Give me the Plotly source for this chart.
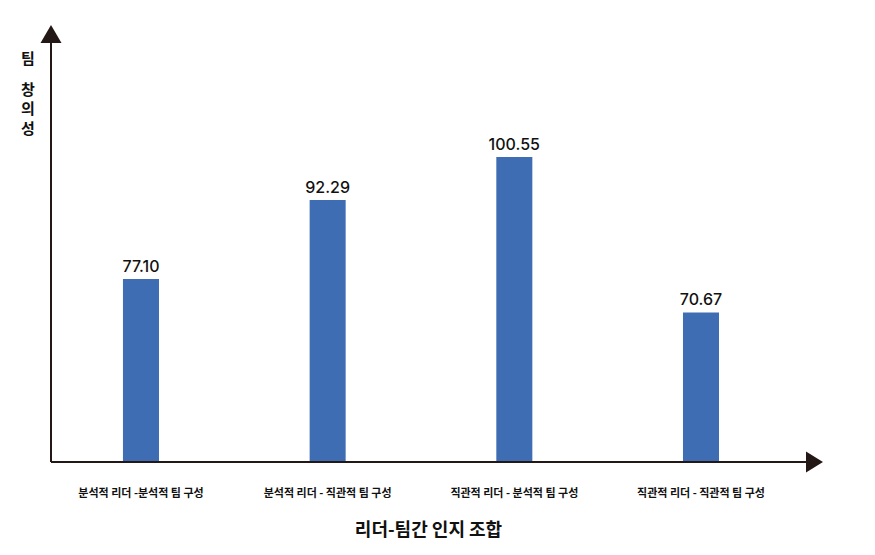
import plotly.graph_objects as go

# leader-team cognitive style combinations and team creativity scores
categories = [
    "분석적 리더 -분석적 팀 구성",
    "분석적 리더 - 직관적 팀 구성",
    "직관적 리더 - 분석적 팀 구성",
    "직관적 리더 - 직관적 팀 구성",
]
creativity = [77.10, 92.29, 100.55, 70.67]
value_labels = ["77.10", "92.29", "100.55", "70.67"]
y_title_chars = ["팀", "창", "의", "성"]

# page body adds an 8px margin, so the figure is drawn 8px smaller
OFF = 8
W, H = 875 - OFF, 555 - OFF
L, R, T, B = 51 - OFF, 69, 43 - OFF, 93
AXIS_COLOR = "#231815"
BAR_COLOR = "#3e6db4"
KR_FONT = "Noto Sans CJK KR"


def px_x(p):
    # p is a position on the final screenshot
    return (p - OFF - L) / (W - L - R)


def px_y(p):
    return (H - B - (p - OFF)) / (H - T - B)


fig = go.Figure()
fig.add_trace(go.Bar(
    x=list(range(len(categories))),
    y=creativity,
    width=0.193,
    marker=dict(color=BAR_COLOR, line=dict(width=0)),
    text=value_labels,
    textposition="outside",
    constraintext="none",
    textfont=dict(family="Inter", size=16, color="#111111", weight=500),
    cliponaxis=False,
))

# axis lines with arrowheads
shapes = [
    dict(type="line", xref="paper", yref="paper", x0=0, x1=1, y0=0, y1=0,
         line=dict(color=AXIS_COLOR, width=2)),
    dict(type="line", xref="paper", yref="paper", x0=0, x1=0, y0=0, y1=1,
         line=dict(color=AXIS_COLOR, width=2)),
    dict(type="path", xref="paper", yref="paper",
         path=f"M {px_x(806)} {px_y(451.5)} L {px_x(823)} {px_y(462)} L {px_x(806)} {px_y(472.5)} Z",
         fillcolor=AXIS_COLOR, line=dict(width=0)),
    dict(type="path", xref="paper", yref="paper",
         path=f"M {px_x(40.5)} {px_y(43)} L {px_x(51)} {px_y(25)} L {px_x(61.5)} {px_y(43)} Z",
         fillcolor=AXIS_COLOR, line=dict(width=0)),
]

# vertical y-axis title, one syllable per line
ytitle_font = dict(family=KR_FONT, size=15, color="#111111", weight=700)
annotations = [
    dict(text=ch, xref="paper", yref="paper", x=px_x(28), y=px_y(yy),
         xanchor="center", yanchor="middle", showarrow=False, font=ytitle_font)
    for ch, yy in zip(y_title_chars, [57, 88, 107.5, 127])
]

fig.update_layout(
    width=W, height=H,
    margin=dict(l=L, r=R, t=T, b=B),
    paper_bgcolor="white",
    plot_bgcolor="white",
    showlegend=False,
    shapes=shapes,
    annotations=annotations,
    xaxis=dict(
        range=[-0.482, 3.5625],
        tickmode="array",
        tickvals=list(range(len(categories))),
        ticktext=categories,
        tickfont=dict(family=KR_FONT, size=11, color="#111111", weight=700),
        ticks="",
        ticklabelstandoff=23,
        showgrid=False,
        zeroline=False,
        showline=False,
        title=dict(text="리더-팀간 인지 조합", standoff=24,
                   font=dict(family=KR_FONT, size=18, color="#111111", weight=700)),
    ),
    yaxis=dict(
        range=[41.9, 122.5],
        showticklabels=False,
        ticks="",
        showgrid=False,
        zeroline=False,
        showline=False,
    ),
)

fig.write_html("out.html")
